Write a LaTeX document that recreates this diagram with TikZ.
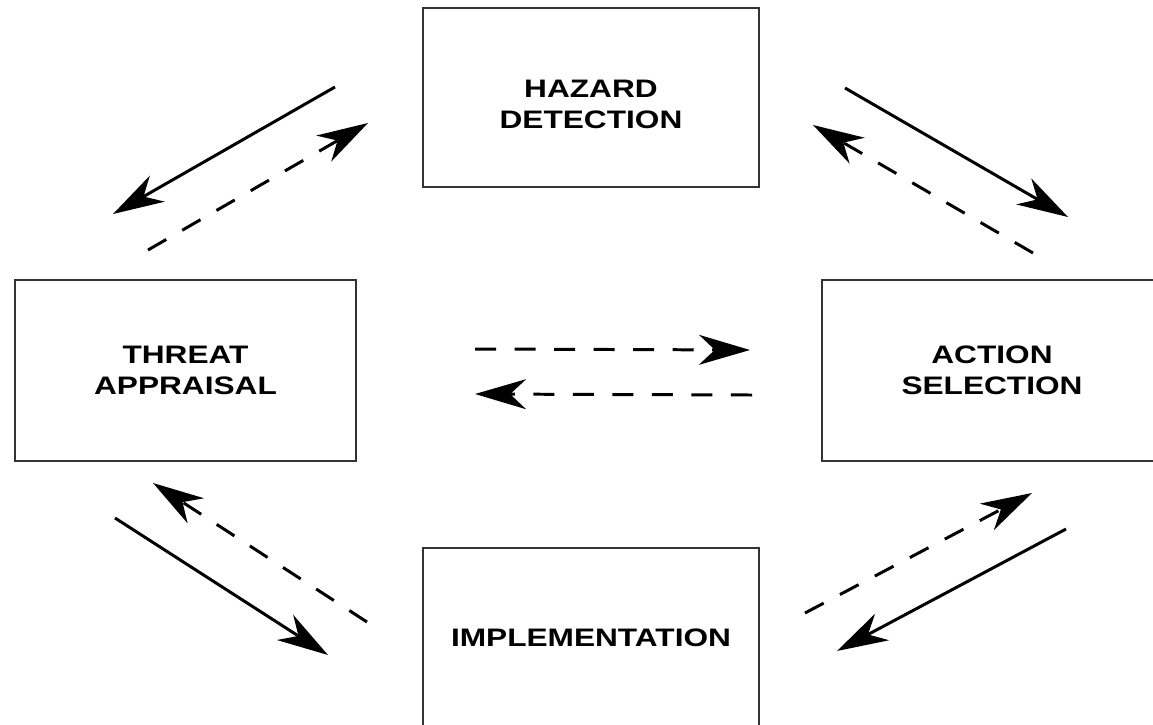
\documentclass[tikz,border=0pt]{standalone}
\usepackage{fontspec}
\newfontfamily\labfont{Liberation Sans}[FakeStretch=1.25]
\usetikzlibrary{arrows.meta}
\begin{document}
\begin{tikzpicture}[x=0.02cm,y=-0.02cm,
  lab/.style={align=center,inner sep=0pt,
    font=\labfont\bfseries\fontsize{14.4}{17.6}\selectfont},
  box/.style={lab,draw=black!80,line width=1.1pt},
  arr/.style={line width=1.7pt,-{Stealth[length=29pt,width=17pt,inset=9pt]}},
  dsh/.style={arr,dash pattern=on 12pt off 10.5pt}]
\useasboundingbox (0,0) rectangle (1153,724);
\clip (0,0) rectangle (1153,724);
\node[box,minimum width=6.72cm,minimum height=3.58cm] (haz) at (591,97.5) {};
\node[lab] (hazt) at (591,104) {HAZARD\\DETECTION};
\node[box,minimum width=6.82cm,minimum height=3.62cm] (thr) at (185.5,370.5) {THREAT\\APPRAISAL};
\node[box,minimum width=6.80cm,minimum height=3.62cm] (act) at (992,370.5) {ACTION\\SELECTION};
\node[box,minimum width=6.72cm,minimum height=3.58cm] (imp) at (591,637.5) {IMPLEMENTATION};
% free connector ends
\coordinate (a1) at (335,87);   \coordinate (a2) at (113,214);
\coordinate (b1) at (148,250);  \coordinate (b2) at (368,123);
\coordinate (c1) at (845,88);   \coordinate (c2) at (1068,217);
\coordinate (d1) at (1033,253); \coordinate (d2) at (813,125);
\coordinate (e1) at (475,349);  \coordinate (e2) at (750,350);
\coordinate (f1) at (752,395);  \coordinate (f2) at (475,394);
\coordinate (g1) at (367,622);  \coordinate (g2) at (153,483);
\coordinate (h1) at (115,518);  \coordinate (h2) at (328,655);
\coordinate (i1) at (805,613);  \coordinate (i2) at (1032,493);
\coordinate (j1) at (1066,529); \coordinate (j2) at (837,651);
\draw[arr] (a1) -- (a2);
\draw[dsh] (b1) -- (b2);
\draw[arr] (c1) -- (c2);
\draw[dsh] (d1) -- (d2);
\draw[dsh] (e1) -- (e2);
\draw[dsh] (f1) -- (f2);
\draw[dsh] (g1) -- (g2);
\draw[arr] (h1) -- (h2);
\draw[dsh] (i1) -- (i2);
\draw[arr] (j1) -- (j2);
\end{tikzpicture}
\end{document}
